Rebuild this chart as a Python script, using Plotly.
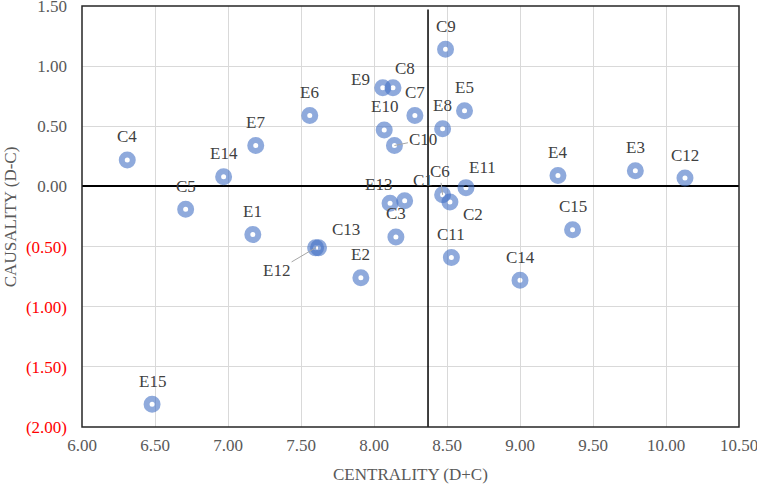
import plotly.graph_objects as go

# ---------------- data ----------------
names = ["C1", "C2", "C3", "C4", "C5", "C6", "C7", "C8", "C9", "C10",
         "C11", "C12", "C13", "C14", "C15",
         "E1", "E2", "E3", "E4", "E5", "E6", "E7", "E8", "E9", "E10",
         "E11", "E12", "E13", "E14", "E15"]
centrality = [8.21, 8.52, 8.15, 6.31, 6.71, 8.47, 8.28, 8.13, 8.49, 8.14,
              8.53, 10.13, 7.62, 9.00, 9.36,
              7.17, 7.91, 9.79, 9.26, 8.62, 7.56, 7.19, 8.47, 8.06, 8.07,
              8.63, 7.60, 8.11, 6.97, 6.48]
causality = [-0.12, -0.13, -0.42, 0.22, -0.19, -0.07, 0.59, 0.82, 1.14, 0.34,
             -0.59, 0.07, -0.51, -0.78, -0.36,
             -0.40, -0.76, 0.13, 0.09, 0.63, 0.59, 0.34, 0.48, 0.82, 0.47,
             -0.01, -0.51, -0.14, 0.08, -1.81]
mean_centrality = 8.37
y_tickvals = [1.5, 1.0, 0.5, 0.0, -0.5, -1.0, -1.5, -2.0]
y_ticktext = ["1.50", "1.00", "0.50", "0.00", "(0.50)", "(1.00)", "(1.50)", "(2.00)"]
x_tickvals = [6.0, 6.5, 7.0, 7.5, 8.0, 8.5, 9.0, 9.5, 10.0, 10.5]

# ---------------- styling ----------------
FONT = "'Liberation Serif', 'Times New Roman', 'DejaVu Serif', serif"
GREY = "#595959"
FS = 17
# label offsets in screen pixels (dx right, dy down); default is above the marker
label_offsets = {
    "E9": (-22, -8), "C8": (12, -19), "E11": (17, -20), "C1": (18, -20),
    "E13": (-12, -19), "C2": (23, 12), "C13": (27, -18),
}
leader_offsets = {"C10": (29, -6), "C6": (-3, -23), "E12": (-39, 23)}
default_offset = (0, -23)

fig = go.Figure()
# vertical reference line at mean centrality
fig.add_trace(go.Scatter(
    x=[mean_centrality, mean_centrality], y=[1.47, -2.0], mode="lines",
    line=dict(color="black", width=1.5), showlegend=False, hoverinfo="skip"))
fig.add_trace(go.Scatter(
    x=centrality, y=causality, mode="markers", text=names,
    marker=dict(symbol="circle", size=11, color="rgba(0,0,0,0)",
                line=dict(color="rgba(68,114,196,0.6)", width=6)),
    showlegend=False, hoverinfo="text+x+y",
))

annotations = []
for n, xv, yv in zip(names, centrality, causality):
    if n in leader_offsets:
        dx, dy = leader_offsets[n]
        annotations.append(dict(
            x=xv, y=yv, text=n, showarrow=True, arrowhead=0, ax=dx, ay=dy,
            arrowcolor="#a6a6a6", arrowwidth=1, standoff=0,
            font=dict(family=FONT, size=FS, color="#404040")))
    else:
        dx, dy = label_offsets.get(n, default_offset)
        annotations.append(dict(
            x=xv, y=yv, text=n, showarrow=False, xshift=dx, yshift=-dy,
            font=dict(family=FONT, size=FS, color="#404040")))

# axis titles
annotations.append(dict(x=0.5, y=-0.112, xref="paper", yref="paper",
                        text="CENTRALITY (D+C)", showarrow=False,
                        xanchor="center", yanchor="middle",
                        font=dict(family=FONT, size=FS, color=GREY)))
annotations.append(dict(x=-0.1085, y=0.5, xref="paper", yref="paper",
                        text="CAUSALITY (D-C)", showarrow=False, textangle=-90,
                        xanchor="center", yanchor="middle",
                        font=dict(family=FONT, size=FS, color=GREY)))

ytext = [("<span style='color:#ff0000'>%s</span>" % t) if v < 0 else t
         for v, t in zip(y_tickvals, y_ticktext)]

shapes = [
    dict(type="rect", xref="paper", yref="paper", x0=0, x1=1, y0=0, y1=1,
         line=dict(color="#262626", width=1.5), layer="above"),
]

fig.update_layout(
    width=757, height=484,
    margin=dict(l=81.5, r=17.7, t=5.7, b=57.3, autoexpand=False),
    paper_bgcolor="white", plot_bgcolor="white",
    font=dict(family=FONT),
    annotations=annotations, shapes=shapes,
    xaxis=dict(range=[6.0, 10.5], tickvals=x_tickvals, tickformat=".2f",
               showgrid=True, gridcolor="#d9d9d9", gridwidth=1,
               zeroline=False, ticks="", ticklabelstandoff=6,
               ticklabeloverflow="allow", automargin=False,
               tickfont=dict(family=FONT, size=FS, color=GREY)),
    yaxis=dict(range=[-2.0, 1.5], tickvals=y_tickvals, ticktext=ytext,
               showgrid=True, gridcolor="#d9d9d9", gridwidth=1,
               zeroline=True, zerolinecolor="black", zerolinewidth=1.5,
               ticks="", ticklabelstandoff=14, ticklabeloverflow="allow",
               automargin=False,
               tickfont=dict(family=FONT, size=FS, color=GREY)),
)

fig.write_html("out.html")
